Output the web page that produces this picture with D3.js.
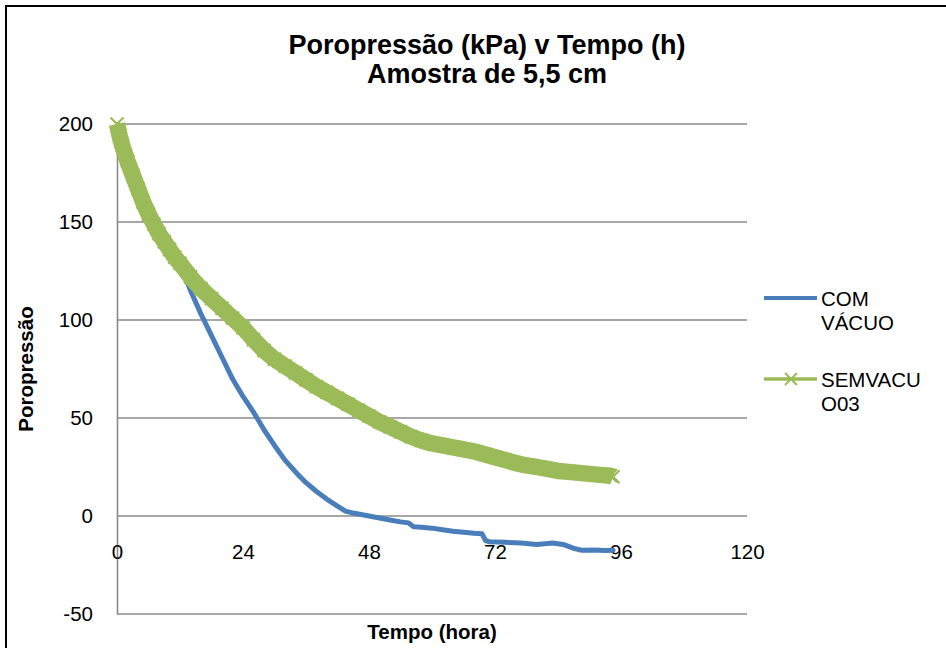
<!DOCTYPE html>
<html>
<head>
<meta charset="utf-8">
<script src="https://cdn.jsdelivr.net/npm/d3@7"></script>
<style>
  html, body { margin: 0; padding: 0; background: #ffffff; }
  svg { display: block; }
  svg text { font-family: Arial, "Liberation Sans", Helvetica, sans-serif; }
</style>
</head>
<body>
<svg id="chart" width="946" height="648"></svg>
<script>
// Pore pressure readings (kPa) against elapsed time (hours)
const titleLines = ["Poropressão (kPa) v Tempo (h)", "Amostra de 5,5 cm"];
const xTitle = "Tempo (hora)";
const yTitle = "Poropressão";
const tickHours = [0, 24, 48, 72, 96, 120];
const tickPressure = [-50, 0, 50, 100, 150, 200];
const legendComVacuo = ["COM", "VÁCUO"];
const legendSemVacuo = ["SEMVACU", "O03"];

const timeComVacuo = [0, 2, 4, 6, 8, 10, 12, 13, 14, 16, 18, 20, 22, 24, 26, 28, 30, 32, 34, 36, 38, 40, 42,
  43.5, 45, 48, 50, 52, 54, 55.5, 56.5, 58, 60, 62, 64, 66, 68, 69.5, 70.2, 71, 74, 77, 80, 83, 85, 87,
  88.5, 91, 93, 94.5];
const poroComVacuo = [196, 181, 167, 154, 144, 136, 128, 122, 115, 103, 92, 81, 70, 61, 53, 44, 36, 28.5,
  22.5, 17, 12.5, 8.5, 5, 2.5, 1.5, 0, -1, -2, -3, -3.5, -5.5, -5.8, -6.2, -7, -7.8, -8.3, -8.8, -9,
  -12.5, -13.2, -13.4, -13.8, -14.5, -13.8, -14.5, -16.5, -17.5, -17.3, -17.6, -17.5];

const timeSemVacuo = [0, 0.5, 1, 2, 3, 4, 5, 6, 7, 8, 9, 10, 11, 12, 14, 16, 18, 20, 22, 24, 26, 28, 30,
  32, 34, 36, 38, 40, 42, 44, 46, 48, 50, 52, 54, 56, 58, 60, 62, 64, 66, 68, 70, 72, 74, 76, 78, 80,
  82, 84, 86, 88, 90, 92, 94, 94.5];
const poroSemVacuo = [200, 194, 189, 181, 174, 167, 160, 154, 149, 144, 140, 136, 132, 129, 122, 116, 111,
  106, 101, 96, 90, 84.5, 80, 76.5, 73, 69.5, 66, 63, 60, 57, 54, 51, 48, 45.5, 43, 40.5, 38.5, 37, 36,
  35, 34, 33, 31.5, 30, 28.5, 27, 25.8, 25, 24, 23, 22.5, 22, 21.5, 21, 20.5, 20];

const comVacuo = timeComVacuo.map((t, i) => ({ t, v: poroComVacuo[i] }));
const semVacuo = timeSemVacuo.map((t, i) => ({ t, v: poroSemVacuo[i] }));

const BLUE = "#4a7ebb";
const GREEN = "#9bbb59";
const GRID = "#8a8a8a";
const FONT = "Arial, 'Liberation Sans', Helvetica, sans-serif";

const svg = d3.select("#chart");

// outer chart frame
svg.append("rect")
  .attr("x", 6).attr("y", 6)
  .attr("width", 960).attr("height", 660)
  .attr("fill", "#ffffff")
  .attr("stroke", "#000000").attr("stroke-width", 2);

const plot = { left: 117, right: 747, top: 124, bottom: 614 };

const x = d3.scaleLinear().domain([0, 120]).range([plot.left, plot.right]);
const y = d3.scaleLinear().domain([-50, 200]).range([plot.bottom, plot.top]);

// horizontal gridlines
svg.append("g")
  .selectAll("line")
  .data(tickPressure)
  .join("line")
  .attr("x1", plot.left).attr("x2", plot.right)
  .attr("y1", d => y(d)).attr("y2", d => y(d))
  .attr("stroke", GRID).attr("stroke-width", 1.6);

// vertical axis
const yAxis = d3.axisLeft(y).tickValues(tickPressure).tickFormat(d => String(d))
  .tickSize(0).tickPadding(24);
const gy = svg.append("g").attr("transform", `translate(${plot.left},0)`).call(yAxis);
gy.attr("font-family", FONT);
gy.select(".domain").attr("stroke", GRID).attr("stroke-width", 1.6);
gy.selectAll("text")
  .attr("font-size", 20.5)
  .attr("fill", "#000000")
  .attr("font-family", FONT);

// horizontal axis labels, set below the zero line
const xAxis = d3.axisBottom(x).tickValues(tickHours).tickFormat(d => String(d))
  .tickSize(0).tickPadding(28);
const gx = svg.append("g").attr("transform", `translate(0,${y(0)})`).call(xAxis);
gx.attr("font-family", FONT);
gx.select(".domain").remove();
gx.selectAll("text")
  .attr("font-size", 20.5)
  .attr("fill", "#000000")
  .attr("font-family", FONT);

const line = d3.line().x(d => x(d.t)).y(d => y(d.v));

// COM VÁCUO
svg.append("path")
  .datum(comVacuo)
  .attr("d", line)
  .attr("fill", "none")
  .attr("stroke", BLUE)
  .attr("stroke-width", 5)
  .attr("stroke-linejoin", "round")
  .attr("stroke-linecap", "round");

// SEMVACUO03: dense cross markers form a wide band
const xMark = "M-6,-6L6,6M-6,6L6,-6";
const xMarkBand = "M-6.5,-6.5L6.5,6.5M-6.5,6.5L6.5,-6.5";
svg.append("path")
  .datum(semVacuo)
  .attr("d", line)
  .attr("fill", "none")
  .attr("stroke", GREEN)
  .attr("stroke-width", 16.5)
  .attr("stroke-linejoin", "round")
  .attr("stroke-linecap", "butt");
svg.append("g")
  .selectAll("path")
  .data(semVacuo)
  .join("path")
  .attr("transform", d => `translate(${x(d.t)},${y(d.v)})`)
  .attr("d", xMarkBand)
  .attr("fill", "none")
  .attr("stroke", GREEN)
  .attr("stroke-width", 2.2);

// title
const title = svg.append("text")
  .attr("text-anchor", "middle")
  .attr("font-family", FONT)
  .attr("font-size", 27)
  .attr("font-weight", "bold")
  .attr("fill", "#000000");
titleLines.forEach((s, i) => {
  title.append("tspan").attr("x", 487).attr("y", 54 + i * 29).text(s);
});

// axis titles
svg.append("text")
  .attr("x", (plot.left + plot.right) / 2).attr("y", 639)
  .attr("text-anchor", "middle")
  .attr("font-family", FONT)
  .attr("font-size", 20.5).attr("font-weight", "bold")
  .text(xTitle);

svg.append("text")
  .attr("transform", `translate(33,${(plot.top + plot.bottom) / 2}) rotate(-90)`)
  .attr("text-anchor", "middle")
  .attr("font-family", FONT)
  .attr("font-size", 20.5).attr("font-weight", "bold")
  .text(yTitle);

// legend
const legend = svg.append("g");
const legendItems = [
  { lines: legendComVacuo, color: BLUE, marker: false, cy: 298 },
  { lines: legendSemVacuo, color: GREEN, marker: true, cy: 379 }
];
legendItems.forEach(item => {
  legend.append("line")
    .attr("x1", 764).attr("x2", 817)
    .attr("y1", item.cy).attr("y2", item.cy)
    .attr("stroke", item.color)
    .attr("stroke-width", item.marker ? 3.5 : 4);
  if (item.marker) {
    legend.append("path")
      .attr("transform", `translate(791,${item.cy})`)
      .attr("d", xMark)
      .attr("fill", "none")
      .attr("stroke", item.color)
      .attr("stroke-width", 2);
  }
  const t = legend.append("text")
    .attr("font-family", FONT)
    .attr("font-size", 20.5).attr("fill", "#000000");
  item.lines.forEach((s, i) => {
    t.append("tspan").attr("x", 821).attr("y", item.cy + 8 + i * 24).text(s);
  });
});
</script>
</body>
</html>
